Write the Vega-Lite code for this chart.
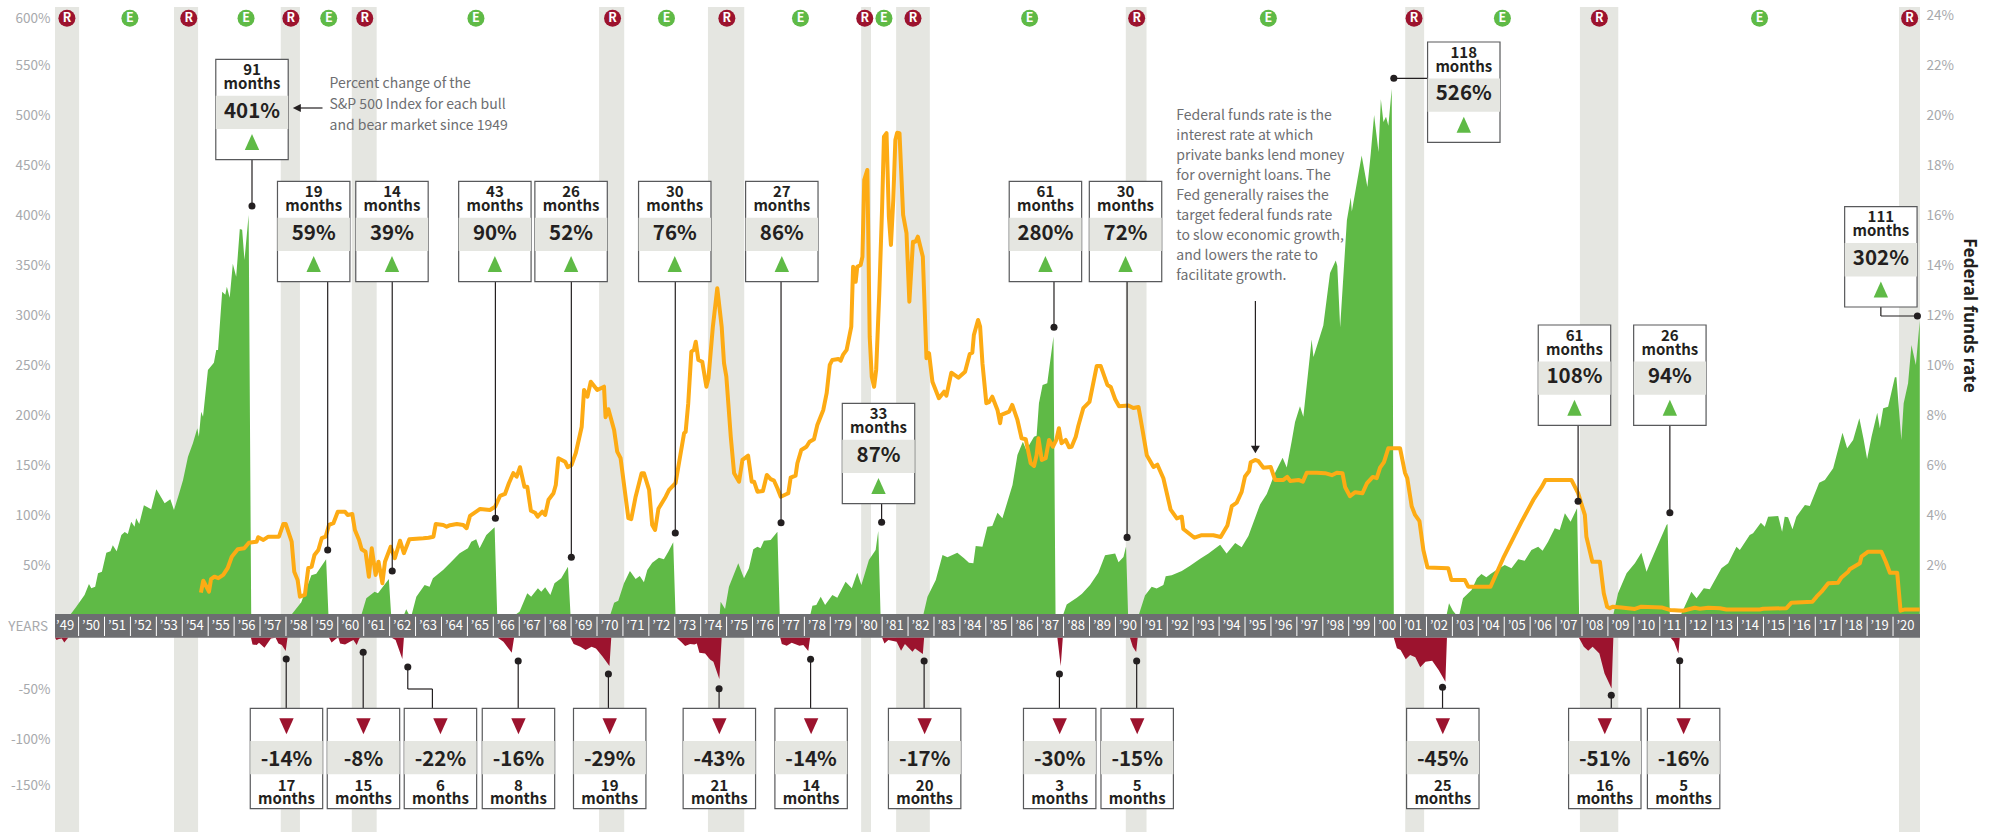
{"$schema":"https://vega.github.io/schema/vega-lite/v6.json","width":1865,"height":825,"autosize":"none","padding":{"left":55,"top":7,"right":70,"bottom":0},"background":"white","config":{"view":{"stroke":null},"text":{"font":"Noto Sans CJK KR"}},
"datasets":{
"bands":[{"start":1949.09,"end":1950.02},{"start":1953.68,"end":1954.61},{"start":1957.8,"end":1958.54},{"start":1960.54,"end":1961.5},{"start":1970.08,"end":1971.05},{"start":1974.28,"end":1975.68},{"start":1980.19,"end":1980.57},{"start":1981.54,"end":1982.84},{"start":1990.4,"end":1991.2},{"start":2001.18,"end":2001.91},{"start":2007.92,"end":2009.4},{"start":2020.23,"end":2021.04}],
"badges":[{"kind":"R","year":1949.55},{"kind":"E","year":1951.98},{"kind":"R","year":1954.25},{"kind":"E","year":1956.46},{"kind":"R","year":1958.19},{"kind":"E","year":1959.65},{"kind":"R","year":1961.04},{"kind":"E","year":1965.33},{"kind":"R","year":1970.6},{"kind":"E","year":1972.68},{"kind":"R","year":1975.01},{"kind":"E","year":1977.85},{"kind":"R","year":1980.33},{"kind":"E","year":1981.07},{"kind":"R","year":1982.19},{"kind":"E","year":1986.69},{"kind":"R","year":1990.82},{"kind":"E","year":1995.9},{"kind":"R","year":2001.52},{"kind":"E","year":2004.93},{"kind":"R","year":2008.67},{"kind":"E","year":2014.85},{"kind":"R","year":2020.64}],
"years":[{"year":1949,"label":"’49"},{"year":1950,"label":"’50"},{"year":1951,"label":"’51"},{"year":1952,"label":"’52"},{"year":1953,"label":"’53"},{"year":1954,"label":"’54"},{"year":1955,"label":"’55"},{"year":1956,"label":"’56"},{"year":1957,"label":"’57"},{"year":1958,"label":"’58"},{"year":1959,"label":"’59"},{"year":1960,"label":"’60"},{"year":1961,"label":"’61"},{"year":1962,"label":"’62"},{"year":1963,"label":"’63"},{"year":1964,"label":"’64"},{"year":1965,"label":"’65"},{"year":1966,"label":"’66"},{"year":1967,"label":"’67"},{"year":1968,"label":"’68"},{"year":1969,"label":"’69"},{"year":1970,"label":"’70"},{"year":1971,"label":"’71"},{"year":1972,"label":"’72"},{"year":1973,"label":"’73"},{"year":1974,"label":"’74"},{"year":1975,"label":"’75"},{"year":1976,"label":"’76"},{"year":1977,"label":"’77"},{"year":1978,"label":"’78"},{"year":1979,"label":"’79"},{"year":1980,"label":"’80"},{"year":1981,"label":"’81"},{"year":1982,"label":"’82"},{"year":1983,"label":"’83"},{"year":1984,"label":"’84"},{"year":1985,"label":"’85"},{"year":1986,"label":"’86"},{"year":1987,"label":"’87"},{"year":1988,"label":"’88"},{"year":1989,"label":"’89"},{"year":1990,"label":"’90"},{"year":1991,"label":"’91"},{"year":1992,"label":"’92"},{"year":1993,"label":"’93"},{"year":1994,"label":"’94"},{"year":1995,"label":"’95"},{"year":1996,"label":"’96"},{"year":1997,"label":"’97"},{"year":1998,"label":"’98"},{"year":1999,"label":"’99"},{"year":2000,"label":"’00"},{"year":2001,"label":"’01"},{"year":2002,"label":"’02"},{"year":2003,"label":"’03"},{"year":2004,"label":"’04"},{"year":2005,"label":"’05"},{"year":2006,"label":"’06"},{"year":2007,"label":"’07"},{"year":2008,"label":"’08"},{"year":2009,"label":"’09"},{"year":2010,"label":"’10"},{"year":2011,"label":"’11"},{"year":2012,"label":"’12"},{"year":2013,"label":"’13"},{"year":2014,"label":"’14"},{"year":2015,"label":"’15"},{"year":2016,"label":"’16"},{"year":2017,"label":"’17"},{"year":2018,"label":"’18"},{"year":2019,"label":"’19"},{"year":2020,"label":"’20"}],
"bull":[{"year":1949.65,"gain":0},{"year":1949.91,"gain":9},{"year":1950.23,"gain":20.7},{"year":1950.4,"gain":31.7},{"year":1950.49,"gain":27.4},{"year":1950.64,"gain":29},{"year":1950.75,"gain":42.4},{"year":1950.9,"gain":44},{"year":1951.07,"gain":63},{"year":1951.23,"gain":64.4},{"year":1951.32,"gain":70.4},{"year":1951.47,"gain":64.4},{"year":1951.65,"gain":80.7},{"year":1951.78,"gain":83.7},{"year":1951.9,"gain":81.7},{"year":1952.03,"gain":94},{"year":1952.16,"gain":89},{"year":1952.22,"gain":97.4},{"year":1952.34,"gain":91.7},{"year":1952.52,"gain":110.4},{"year":1952.8,"gain":106.4},{"year":1953,"gain":126.4},{"year":1953.32,"gain":112.4},{"year":1953.54,"gain":116.4},{"year":1953.68,"gain":105.7},{"year":1953.86,"gain":120.7},{"year":1954.03,"gain":135.7},{"year":1954.22,"gain":159},{"year":1954.41,"gain":172.4},{"year":1954.58,"gain":187.4},{"year":1954.64,"gain":179},{"year":1954.73,"gain":204},{"year":1954.8,"gain":199},{"year":1954.99,"gain":245.7},{"year":1955.22,"gain":253},{"year":1955.31,"gain":265.7},{"year":1955.38,"gain":265.7},{"year":1955.54,"gain":324},{"year":1955.66,"gain":321},{"year":1955.72,"gain":329},{"year":1955.83,"gain":318},{"year":1955.95,"gain":352},{"year":1956.08,"gain":339},{"year":1956.22,"gain":386.7},{"year":1956.31,"gain":386},{"year":1956.4,"gain":355.7},{"year":1956.56,"gain":400.7},{"year":1956.66,"gain":0},{"year":1958.18,"gain":0},{"year":1958.59,"gain":13.4},{"year":1958.98,"gain":40.4},{"year":1959.17,"gain":42},{"year":1959.55,"gain":56.4},{"year":1959.64,"gain":0},{"year":1960.9,"gain":0},{"year":1961.1,"gain":17.4},{"year":1961.42,"gain":24},{"year":1961.55,"gain":22.4},{"year":1961.74,"gain":29},{"year":1961.97,"gain":36.7},{"year":1962.06,"gain":0},{"year":1962.54,"gain":0},{"year":1962.64,"gain":6.4},{"year":1962.77,"gain":0},{"year":1962.84,"gain":0},{"year":1963.03,"gain":19},{"year":1963.35,"gain":30.7},{"year":1963.54,"gain":29},{"year":1963.67,"gain":37.4},{"year":1964.06,"gain":45.7},{"year":1964.38,"gain":54},{"year":1964.7,"gain":62.4},{"year":1965.02,"gain":67.4},{"year":1965.15,"gain":74},{"year":1965.34,"gain":76.4},{"year":1965.47,"gain":67.4},{"year":1965.73,"gain":80.7},{"year":1966.05,"gain":88.4},{"year":1966.15,"gain":0},{"year":1966.8,"gain":0},{"year":1967.01,"gain":4},{"year":1967.31,"gain":22.4},{"year":1967.46,"gain":19},{"year":1967.72,"gain":27.4},{"year":1967.85,"gain":24},{"year":1968,"gain":28.4},{"year":1968.2,"gain":20.7},{"year":1968.36,"gain":32.4},{"year":1968.62,"gain":37.4},{"year":1968.88,"gain":49},{"year":1968.98,"gain":0},{"year":1970.5,"gain":0},{"year":1970.66,"gain":13},{"year":1970.82,"gain":15},{"year":1971.04,"gain":32.4},{"year":1971.27,"gain":44.7},{"year":1971.49,"gain":36.7},{"year":1971.65,"gain":39.7},{"year":1971.81,"gain":33.4},{"year":1971.94,"gain":45.7},{"year":1972.13,"gain":53},{"year":1972.39,"gain":58},{"year":1972.58,"gain":56.4},{"year":1972.75,"gain":64},{"year":1972.94,"gain":73.4},{"year":1973.03,"gain":0},{"year":1974.73,"gain":0},{"year":1974.77,"gain":14},{"year":1974.94,"gain":6.7},{"year":1975.09,"gain":29},{"year":1975.45,"gain":52.4},{"year":1975.67,"gain":37.4},{"year":1975.86,"gain":47.4},{"year":1976.03,"gain":66.4},{"year":1976.19,"gain":69},{"year":1976.31,"gain":67.4},{"year":1976.44,"gain":75},{"year":1976.7,"gain":75.7},{"year":1976.96,"gain":84},{"year":1977.05,"gain":0},{"year":1978.22,"gain":0},{"year":1978.31,"gain":10},{"year":1978.46,"gain":10.7},{"year":1978.63,"gain":19},{"year":1978.8,"gain":10.7},{"year":1979.08,"gain":20.7},{"year":1979.27,"gain":18},{"year":1979.59,"gain":34},{"year":1979.83,"gain":27.4},{"year":1980.04,"gain":43},{"year":1980.2,"gain":30.7},{"year":1980.49,"gain":55.7},{"year":1980.75,"gain":65.7},{"year":1980.85,"gain":84.7},{"year":1980.94,"gain":0},{"year":1982.58,"gain":0},{"year":1982.75,"gain":19},{"year":1983.07,"gain":35.7},{"year":1983.33,"gain":60.7},{"year":1983.52,"gain":58.4},{"year":1983.9,"gain":63},{"year":1984.16,"gain":57.4},{"year":1984.35,"gain":53},{"year":1984.52,"gain":52.4},{"year":1984.61,"gain":69.7},{"year":1984.87,"gain":69},{"year":1985.06,"gain":89},{"year":1985.25,"gain":89.7},{"year":1985.45,"gain":103},{"year":1985.64,"gain":97.4},{"year":1986.03,"gain":130.7},{"year":1986.22,"gain":160.7},{"year":1986.43,"gain":174},{"year":1986.56,"gain":165.7},{"year":1986.86,"gain":179},{"year":1986.96,"gain":180},{"year":1987.05,"gain":212.4},{"year":1987.19,"gain":230.7},{"year":1987.37,"gain":232.4},{"year":1987.61,"gain":279},{"year":1987.69,"gain":0},{"year":1987.97,"gain":0},{"year":1988.12,"gain":11.3},{"year":1988.51,"gain":18},{"year":1988.71,"gain":21.9},{"year":1989.02,"gain":30.6},{"year":1989.34,"gain":42.9},{"year":1989.6,"gain":60.4},{"year":1989.99,"gain":62.2},{"year":1990.12,"gain":53.4},{"year":1990.31,"gain":58.7},{"year":1990.41,"gain":69.2},{"year":1990.49,"gain":0},{"year":1990.89,"gain":0},{"year":1991.14,"gain":20.1},{"year":1991.4,"gain":28.9},{"year":1991.59,"gain":27.1},{"year":1991.85,"gain":30.7},{"year":1991.94,"gain":39.4},{"year":1992.17,"gain":40.4},{"year":1992.56,"gain":44.7},{"year":1992.88,"gain":49.9},{"year":1993.27,"gain":56.9},{"year":1993.59,"gain":62.2},{"year":1994.04,"gain":71},{"year":1994.29,"gain":62.2},{"year":1994.62,"gain":72.7},{"year":1994.87,"gain":68.5},{"year":1995.13,"gain":79.7},{"year":1995.58,"gain":111.3},{"year":1995.84,"gain":121.8},{"year":1996.16,"gain":142.9},{"year":1996.45,"gain":157.9},{"year":1996.61,"gain":148.1},{"year":1996.8,"gain":174.4},{"year":1996.93,"gain":193.7},{"year":1997.12,"gain":209.5},{"year":1997.25,"gain":199},{"year":1997.57,"gain":276.1},{"year":1997.64,"gain":258.7},{"year":1997.83,"gain":274.4},{"year":1998.02,"gain":290.2},{"year":1998.28,"gain":342.8},{"year":1998.5,"gain":355.1},{"year":1998.56,"gain":349.8},{"year":1998.67,"gain":288.4},{"year":1998.93,"gain":395.4},{"year":1999.08,"gain":418.2},{"year":1999.12,"gain":404.2},{"year":1999.37,"gain":441},{"year":1999.5,"gain":460.3},{"year":1999.72,"gain":428.7},{"year":1999.85,"gain":462},{"year":1999.98,"gain":500.7},{"year":2000.15,"gain":463.8},{"year":2000.24,"gain":516.4},{"year":2000.34,"gain":493.7},{"year":2000.44,"gain":498.9},{"year":2000.53,"gain":490},{"year":2000.66,"gain":526.9},{"year":2000.74,"gain":0},{"year":2002.77,"gain":0},{"year":2002.87,"gain":12.4},{"year":2003.02,"gain":5},{"year":2003.18,"gain":0},{"year":2003.26,"gain":0},{"year":2003.41,"gain":17.4},{"year":2003.74,"gain":25.7},{"year":2003.95,"gain":37.4},{"year":2004.12,"gain":41.7},{"year":2004.31,"gain":38.4},{"year":2004.47,"gain":41.7},{"year":2004.7,"gain":45.7},{"year":2005.02,"gain":50.7},{"year":2005.28,"gain":47.4},{"year":2005.54,"gain":56.4},{"year":2005.79,"gain":55},{"year":2006.05,"gain":65.7},{"year":2006.31,"gain":69},{"year":2006.48,"gain":65},{"year":2006.69,"gain":74},{"year":2006.95,"gain":87.4},{"year":2007.14,"gain":85.7},{"year":2007.34,"gain":102.4},{"year":2007.56,"gain":94},{"year":2007.81,"gain":107.4},{"year":2007.89,"gain":0},{"year":2009.2,"gain":0},{"year":2009.39,"gain":22.4},{"year":2009.72,"gain":42.4},{"year":2010.04,"gain":52.4},{"year":2010.29,"gain":63},{"year":2010.49,"gain":44},{"year":2010.62,"gain":52.4},{"year":2010.87,"gain":67.4},{"year":2011.26,"gain":90.7},{"year":2011.3,"gain":91.7},{"year":2011.39,"gain":0},{"year":2011.8,"gain":0},{"year":2012.22,"gain":24},{"year":2012.42,"gain":17.4},{"year":2012.7,"gain":27.4},{"year":2012.93,"gain":26.4},{"year":2013.38,"gain":47.4},{"year":2013.64,"gain":52.4},{"year":2013.96,"gain":69},{"year":2014.09,"gain":65.7},{"year":2014.47,"gain":80.7},{"year":2014.6,"gain":82.4},{"year":2014.9,"gain":93},{"year":2015.05,"gain":89},{"year":2015.18,"gain":99},{"year":2015.57,"gain":99.7},{"year":2015.72,"gain":84},{"year":2015.82,"gain":99},{"year":2015.95,"gain":98.4},{"year":2016.12,"gain":86.4},{"year":2016.27,"gain":99},{"year":2016.6,"gain":110.7},{"year":2016.79,"gain":109.7},{"year":2017.15,"gain":133},{"year":2017.37,"gain":135.7},{"year":2017.69,"gain":147.4},{"year":2018.05,"gain":183},{"year":2018.23,"gain":167.4},{"year":2018.46,"gain":175.7},{"year":2018.7,"gain":197.4},{"year":2018.87,"gain":175.7},{"year":2019,"gain":156.7},{"year":2019.17,"gain":179},{"year":2019.39,"gain":203},{"year":2019.49,"gain":187.4},{"year":2019.62,"gain":207.4},{"year":2019.81,"gain":209},{"year":2020.07,"gain":238.4},{"year":2020.13,"gain":238.4},{"year":2020.32,"gain":175.7},{"year":2020.41,"gain":212.4},{"year":2020.58,"gain":232.4},{"year":2020.71,"gain":270.7},{"year":2020.88,"gain":250.7},{"year":2021.03,"gain":295}],
"bear":[{"year":1949.09,"loss":0},{"year":1949.15,"loss":-2.3},{"year":1949.24,"loss":-1.3},{"year":1949.35,"loss":-0.7},{"year":1949.45,"loss":-4.7},{"year":1949.54,"loss":-1.7},{"year":1949.6,"loss":0},{"year":1956.65,"loss":0},{"year":1956.71,"loss":-6.7},{"year":1956.87,"loss":-7.3},{"year":1956.96,"loss":-5},{"year":1957.17,"loss":-10},{"year":1957.42,"loss":-0.7},{"year":1957.6,"loss":0},{"year":1957.71,"loss":-5.7},{"year":1957.84,"loss":-7.3},{"year":1957.99,"loss":-13.3},{"year":1958.06,"loss":0},{"year":1959.66,"loss":0},{"year":1959.76,"loss":-4.7},{"year":1959.95,"loss":-0.7},{"year":1960.02,"loss":0},{"year":1960.09,"loss":-5.7},{"year":1960.28,"loss":-6.7},{"year":1960.47,"loss":-4},{"year":1960.6,"loss":-2.3},{"year":1960.73,"loss":-7.3},{"year":1960.83,"loss":-0.7},{"year":1960.88,"loss":0},{"year":1962.08,"loss":0},{"year":1962.23,"loss":-2.3},{"year":1962.49,"loss":-21.3},{"year":1962.55,"loss":0},{"year":1966.17,"loss":0},{"year":1966.39,"loss":-4},{"year":1966.71,"loss":-15},{"year":1966.8,"loss":0},{"year":1968.98,"loss":0},{"year":1969.1,"loss":-6.3},{"year":1969.36,"loss":-9},{"year":1969.56,"loss":-12.3},{"year":1969.79,"loss":-9},{"year":1969.96,"loss":-10.7},{"year":1970.22,"loss":-19},{"year":1970.48,"loss":-28.3},{"year":1970.55,"loss":0},{"year":1973.07,"loss":0},{"year":1973.27,"loss":-4.7},{"year":1973.4,"loss":-8.3},{"year":1973.59,"loss":-6.3},{"year":1973.76,"loss":-6.7},{"year":1973.85,"loss":-5.7},{"year":1973.95,"loss":-15},{"year":1974.17,"loss":-15.7},{"year":1974.36,"loss":-21.7},{"year":1974.49,"loss":-24},{"year":1974.72,"loss":-41.3},{"year":1974.81,"loss":0},{"year":1977.07,"loss":0},{"year":1977.13,"loss":-6.3},{"year":1977.32,"loss":-8},{"year":1977.51,"loss":-5},{"year":1977.81,"loss":-8},{"year":1977.96,"loss":-7.3},{"year":1978.15,"loss":-13.3},{"year":1978.22,"loss":0},{"year":1981,"loss":0},{"year":1981.09,"loss":-5.7},{"year":1981.24,"loss":-2.3},{"year":1981.56,"loss":-4},{"year":1981.73,"loss":-13},{"year":1981.88,"loss":-6.3},{"year":1982.17,"loss":-14},{"year":1982.27,"loss":-10.7},{"year":1982.57,"loss":-16.3},{"year":1982.62,"loss":0},{"year":1987.76,"loss":0},{"year":1987.89,"loss":-28.3},{"year":1987.97,"loss":0},{"year":1990.56,"loss":0},{"year":1990.67,"loss":-9},{"year":1990.8,"loss":-14.3},{"year":1990.86,"loss":0},{"year":2000.74,"loss":0},{"year":2000.86,"loss":-10.6},{"year":2001,"loss":-12.3},{"year":2001.2,"loss":-21.6},{"year":2001.37,"loss":-17.3},{"year":2001.57,"loss":-19.6},{"year":2001.76,"loss":-29.6},{"year":2001.96,"loss":-24},{"year":2002.22,"loss":-23},{"year":2002.47,"loss":-32.3},{"year":2002.73,"loss":-44},{"year":2002.79,"loss":0},{"year":2007.88,"loss":0},{"year":2008.07,"loss":-9},{"year":2008.24,"loss":-13},{"year":2008.41,"loss":-9},{"year":2008.67,"loss":-15.7},{"year":2008.87,"loss":-35.7},{"year":2009.14,"loss":-50.7},{"year":2009.21,"loss":0},{"year":2011.42,"loss":0},{"year":2011.55,"loss":-4},{"year":2011.72,"loss":-15.7},{"year":2011.77,"loss":0}],
"fed":[{"year":1954.72,"rate":0.92},{"year":1954.81,"rate":1.4},{"year":1955.03,"rate":0.96},{"year":1955.11,"rate":1.46},{"year":1955.24,"rate":1.56},{"year":1955.39,"rate":1.5},{"year":1955.58,"rate":1.63},{"year":1955.75,"rate":1.9},{"year":1955.91,"rate":2.36},{"year":1956.14,"rate":2.66},{"year":1956.39,"rate":2.7},{"year":1956.57,"rate":2.92},{"year":1956.87,"rate":2.96},{"year":1956.93,"rate":3.14},{"year":1957.13,"rate":3.03},{"year":1957.32,"rate":3.16},{"year":1957.73,"rate":3.16},{"year":1957.9,"rate":3.67},{"year":1957.99,"rate":3.67},{"year":1958.22,"rate":2.96},{"year":1958.32,"rate":1.76},{"year":1958.45,"rate":1.43},{"year":1958.54,"rate":0.76},{"year":1958.73,"rate":0.83},{"year":1958.86,"rate":1.9},{"year":1958.99,"rate":1.96},{"year":1959.1,"rate":2.43},{"year":1959.25,"rate":2.63},{"year":1959.38,"rate":3.1},{"year":1959.53,"rate":3.16},{"year":1959.66,"rate":3.63},{"year":1959.83,"rate":3.7},{"year":1960,"rate":4.16},{"year":1960.28,"rate":4.16},{"year":1960.38,"rate":4.03},{"year":1960.56,"rate":4.07},{"year":1960.66,"rate":3.43},{"year":1960.82,"rate":3.03},{"year":1960.92,"rate":2.66},{"year":1961.07,"rate":2.56},{"year":1961.2,"rate":1.56},{"year":1961.31,"rate":2.7},{"year":1961.46,"rate":1.63},{"year":1961.57,"rate":2.16},{"year":1961.72,"rate":1.3},{"year":1961.82,"rate":2.16},{"year":1962.04,"rate":2.76},{"year":1962.2,"rate":2.3},{"year":1962.4,"rate":3},{"year":1962.55,"rate":2.5},{"year":1962.76,"rate":3.06},{"year":1963.3,"rate":3.1},{"year":1963.5,"rate":3.12},{"year":1963.69,"rate":3.16},{"year":1963.78,"rate":3.67},{"year":1964.07,"rate":3.63},{"year":1964.2,"rate":3.56},{"year":1964.33,"rate":3.62},{"year":1964.59,"rate":3.67},{"year":1964.84,"rate":3.63},{"year":1964.97,"rate":3.5},{"year":1965.1,"rate":3.99},{"year":1965.49,"rate":4.27},{"year":1965.87,"rate":4.23},{"year":1966.07,"rate":4.36},{"year":1966.26,"rate":4.79},{"year":1966.45,"rate":4.87},{"year":1966.6,"rate":5.3},{"year":1966.77,"rate":5.7},{"year":1966.9,"rate":5.56},{"year":1967.03,"rate":5.94},{"year":1967.2,"rate":5.16},{"year":1967.31,"rate":5.16},{"year":1967.45,"rate":4.2},{"year":1967.61,"rate":4.12},{"year":1967.71,"rate":3.96},{"year":1967.89,"rate":4.16},{"year":1968,"rate":4.03},{"year":1968.13,"rate":4.64},{"year":1968.32,"rate":4.9},{"year":1968.41,"rate":5.23},{"year":1968.51,"rate":6.3},{"year":1968.77,"rate":6.16},{"year":1968.87,"rate":5.94},{"year":1969.02,"rate":6.03},{"year":1969.18,"rate":6.5},{"year":1969.41,"rate":7.56},{"year":1969.5,"rate":9.03},{"year":1969.63,"rate":8.76},{"year":1969.76,"rate":9.36},{"year":1970.01,"rate":9.03},{"year":1970.27,"rate":9.16},{"year":1970.33,"rate":7.94},{"year":1970.44,"rate":8.26},{"year":1970.66,"rate":7.43},{"year":1970.78,"rate":6.56},{"year":1970.91,"rate":6.3},{"year":1971.21,"rate":3.9},{"year":1971.32,"rate":3.86},{"year":1971.49,"rate":4.76},{"year":1971.72,"rate":5.7},{"year":1971.81,"rate":5.7},{"year":1972.01,"rate":5.03},{"year":1972.13,"rate":3.63},{"year":1972.24,"rate":3.43},{"year":1972.37,"rate":4.28},{"year":1972.65,"rate":4.76},{"year":1972.78,"rate":5.03},{"year":1973.03,"rate":5.3},{"year":1973.36,"rate":7.3},{"year":1973.42,"rate":7.36},{"year":1973.52,"rate":8.5},{"year":1973.64,"rate":10.56},{"year":1973.74,"rate":10.63},{"year":1973.81,"rate":10.96},{"year":1973.91,"rate":10.23},{"year":1974.06,"rate":10.16},{"year":1974.22,"rate":9.16},{"year":1974.3,"rate":9.5},{"year":1974.47,"rate":11.56},{"year":1974.64,"rate":13.1},{"year":1974.81,"rate":11.56},{"year":1974.9,"rate":10.1},{"year":1974.99,"rate":9.56},{"year":1975.16,"rate":7.16},{"year":1975.29,"rate":5.7},{"year":1975.48,"rate":5.36},{"year":1975.61,"rate":6.23},{"year":1975.83,"rate":6.4},{"year":1975.97,"rate":5.36},{"year":1976.06,"rate":5.36},{"year":1976.19,"rate":4.96},{"year":1976.4,"rate":4.99},{"year":1976.55,"rate":5.63},{"year":1976.7,"rate":5.46},{"year":1976.83,"rate":5.4},{"year":1976.96,"rate":5.1},{"year":1977.09,"rate":4.76},{"year":1977.38,"rate":4.9},{"year":1977.47,"rate":5.52},{"year":1977.66,"rate":5.6},{"year":1977.73,"rate":6.1},{"year":1977.88,"rate":6.63},{"year":1978.08,"rate":6.76},{"year":1978.2,"rate":6.96},{"year":1978.37,"rate":7.06},{"year":1978.5,"rate":7.63},{"year":1978.73,"rate":8.23},{"year":1978.86,"rate":8.9},{"year":1978.98,"rate":10.03},{"year":1979.08,"rate":10.23},{"year":1979.31,"rate":10.27},{"year":1979.4,"rate":10.2},{"year":1979.49,"rate":10.43},{"year":1979.63,"rate":10.63},{"year":1979.81,"rate":11.56},{"year":1979.88,"rate":13.96},{"year":1979.98,"rate":13.36},{"year":1980.04,"rate":13.96},{"year":1980.17,"rate":14.03},{"year":1980.24,"rate":14.36},{"year":1980.31,"rate":17.43},{"year":1980.43,"rate":17.83},{"year":1980.52,"rate":11.16},{"year":1980.6,"rate":9.56},{"year":1980.69,"rate":9.16},{"year":1980.77,"rate":9.83},{"year":1980.89,"rate":12.9},{"year":1981,"rate":16.36},{"year":1981.07,"rate":19.16},{"year":1981.17,"rate":19.3},{"year":1981.26,"rate":15.96},{"year":1981.34,"rate":14.83},{"year":1981.43,"rate":16.63},{"year":1981.51,"rate":19.03},{"year":1981.58,"rate":19.32},{"year":1981.67,"rate":19.3},{"year":1981.81,"rate":16.03},{"year":1981.94,"rate":15.3},{"year":1982.05,"rate":12.56},{"year":1982.19,"rate":14.96},{"year":1982.29,"rate":14.96},{"year":1982.38,"rate":15.16},{"year":1982.57,"rate":14.36},{"year":1982.71,"rate":10.3},{"year":1982.81,"rate":10.5},{"year":1982.94,"rate":9.36},{"year":1983.19,"rate":8.7},{"year":1983.39,"rate":8.96},{"year":1983.48,"rate":8.8},{"year":1983.67,"rate":9.72},{"year":1983.94,"rate":9.52},{"year":1984.2,"rate":9.76},{"year":1984.38,"rate":10.47},{"year":1984.48,"rate":10.52},{"year":1984.54,"rate":11.23},{"year":1984.7,"rate":11.83},{"year":1984.78,"rate":11.56},{"year":1984.87,"rate":10.1},{"year":1985.02,"rate":8.5},{"year":1985.12,"rate":8.54},{"year":1985.25,"rate":8.76},{"year":1985.45,"rate":8.23},{"year":1985.55,"rate":7.7},{"year":1985.6,"rate":8.03},{"year":1985.9,"rate":8.16},{"year":1986.02,"rate":8.43},{"year":1986.22,"rate":7.83},{"year":1986.38,"rate":7.1},{"year":1986.54,"rate":7.06},{"year":1986.73,"rate":6.1},{"year":1986.86,"rate":5.99},{"year":1986.96,"rate":6.43},{"year":1987.03,"rate":7.1},{"year":1987.16,"rate":6.23},{"year":1987.31,"rate":6.3},{"year":1987.44,"rate":7.03},{"year":1987.59,"rate":6.76},{"year":1987.72,"rate":7.03},{"year":1987.82,"rate":7.5},{"year":1987.92,"rate":6.9},{"year":1988.08,"rate":7.03},{"year":1988.21,"rate":6.74},{"year":1988.31,"rate":6.76},{"year":1988.47,"rate":7.16},{"year":1988.57,"rate":7.6},{"year":1988.76,"rate":8.3},{"year":1989,"rate":8.55},{"year":1989.28,"rate":9.99},{"year":1989.43,"rate":9.99},{"year":1989.69,"rate":9.23},{"year":1989.82,"rate":9.15},{"year":1989.99,"rate":8.66},{"year":1990.14,"rate":8.38},{"year":1990.5,"rate":8.41},{"year":1990.69,"rate":8.31},{"year":1990.89,"rate":8.35},{"year":1991.05,"rate":7.4},{"year":1991.21,"rate":6.42},{"year":1991.47,"rate":5.95},{"year":1991.62,"rate":6.04},{"year":1991.85,"rate":5.5},{"year":1992.13,"rate":4.24},{"year":1992.37,"rate":3.89},{"year":1992.56,"rate":3.96},{"year":1992.62,"rate":3.47},{"year":1993.05,"rate":3.12},{"year":1993.33,"rate":3.22},{"year":1993.78,"rate":3.22},{"year":1994.06,"rate":3.15},{"year":1994.32,"rate":3.61},{"year":1994.49,"rate":4.38},{"year":1994.68,"rate":4.52},{"year":1994.87,"rate":4.95},{"year":1995,"rate":5.57},{"year":1995.16,"rate":5.79},{"year":1995.22,"rate":6.14},{"year":1995.39,"rate":6.23},{"year":1995.52,"rate":6.18},{"year":1995.71,"rate":5.92},{"year":1995.99,"rate":5.95},{"year":1996.16,"rate":5.43},{"year":1996.48,"rate":5.43},{"year":1996.63,"rate":5.55},{"year":1996.74,"rate":5.39},{"year":1997.06,"rate":5.43},{"year":1997.23,"rate":5.36},{"year":1997.38,"rate":5.72},{"year":1997.77,"rate":5.72},{"year":1998.09,"rate":5.7},{"year":1998.35,"rate":5.62},{"year":1998.54,"rate":5.72},{"year":1998.76,"rate":5.7},{"year":1998.86,"rate":5.15},{"year":1999.05,"rate":4.78},{"year":1999.25,"rate":4.94},{"year":1999.53,"rate":4.9},{"year":1999.7,"rate":5.29},{"year":1999.93,"rate":5.55},{"year":2000.08,"rate":5.5},{"year":2000.21,"rate":5.92},{"year":2000.36,"rate":6.14},{"year":2000.53,"rate":6.7},{"year":2000.98,"rate":6.7},{"year":2001.17,"rate":5.72},{"year":2001.26,"rate":5.5},{"year":2001.43,"rate":4.38},{"year":2001.56,"rate":4.03},{"year":2001.73,"rate":3.78},{"year":2001.88,"rate":2.63},{"year":2002.04,"rate":1.93},{"year":2002.84,"rate":1.9},{"year":2002.96,"rate":1.43},{"year":2003.48,"rate":1.43},{"year":2003.61,"rate":1.16},{"year":2004.47,"rate":1.16},{"year":2004.96,"rate":2.3},{"year":2005.41,"rate":3.23},{"year":2005.67,"rate":3.76},{"year":2006.12,"rate":4.63},{"year":2006.44,"rate":5.14},{"year":2006.59,"rate":5.43},{"year":2007.59,"rate":5.43},{"year":2007.85,"rate":4.9},{"year":2008.11,"rate":4.03},{"year":2008.17,"rate":3.16},{"year":2008.4,"rate":2.16},{"year":2008.69,"rate":2.16},{"year":2008.84,"rate":0.9},{"year":2008.97,"rate":0.36},{"year":2009.07,"rate":0.3},{"year":2009.2,"rate":0.36},{"year":2009.52,"rate":0.33},{"year":2010.04,"rate":0.27},{"year":2010.29,"rate":0.36},{"year":2011.07,"rate":0.33},{"year":2011.39,"rate":0.23},{"year":2011.9,"rate":0.2},{"year":2012.35,"rate":0.32},{"year":2012.55,"rate":0.28},{"year":2012.87,"rate":0.32},{"year":2013.32,"rate":0.3},{"year":2013.57,"rate":0.25},{"year":2014.86,"rate":0.25},{"year":2014.99,"rate":0.28},{"year":2015.89,"rate":0.3},{"year":2016.08,"rate":0.52},{"year":2016.89,"rate":0.56},{"year":2017.05,"rate":0.76},{"year":2017.24,"rate":0.96},{"year":2017.5,"rate":1.3},{"year":2017.88,"rate":1.32},{"year":2018.01,"rate":1.53},{"year":2018.27,"rate":1.76},{"year":2018.33,"rate":1.86},{"year":2018.72,"rate":2.1},{"year":2018.78,"rate":2.36},{"year":2019.04,"rate":2.56},{"year":2019.55,"rate":2.56},{"year":2019.72,"rate":2.16},{"year":2019.88,"rate":1.72},{"year":2020.16,"rate":1.72},{"year":2020.29,"rate":0.2},{"year":2020.46,"rate":0.25},{"year":2021.03,"rate":0.25}],
"callouts":[{"x":1956.69,"top":556.4,"dir":"up","months":"91","pct":"401%"},{"x":1959.07,"top":434.4,"dir":"up","months":"19","pct":"59%"},{"x":1962.09,"top":434.4,"dir":"up","months":"14","pct":"39%"},{"x":1966.06,"top":434.4,"dir":"up","months":"43","pct":"90%"},{"x":1969,"top":434.4,"dir":"up","months":"26","pct":"52%"},{"x":1973,"top":434.4,"dir":"up","months":"30","pct":"76%"},{"x":1977.13,"top":434.4,"dir":"up","months":"27","pct":"86%"},{"x":1980.86,"top":212.4,"dir":"up","months":"33","pct":"87%"},{"x":1987.3,"top":434.4,"dir":"up","months":"61","pct":"280%"},{"x":1990.39,"top":434.4,"dir":"up","months":"30","pct":"72%"},{"x":2003.44,"top":573.7,"dir":"up","months":"118","pct":"526%"},{"x":2007.71,"top":290.7,"dir":"up","months":"61","pct":"108%"},{"x":2011.39,"top":290.7,"dir":"up","months":"26","pct":"94%"},{"x":2019.53,"top":409,"dir":"up","months":"111","pct":"302%"},{"x":1958.02,"top":-92.6,"dir":"down","months":"17","pct":"-14%"},{"x":1960.99,"top":-92.6,"dir":"down","months":"15","pct":"-8%"},{"x":1963.96,"top":-92.6,"dir":"down","months":"6","pct":"-22%"},{"x":1966.97,"top":-92.6,"dir":"down","months":"8","pct":"-16%"},{"x":1970.49,"top":-92.6,"dir":"down","months":"19","pct":"-29%"},{"x":1974.72,"top":-92.6,"dir":"down","months":"21","pct":"-43%"},{"x":1978.26,"top":-92.6,"dir":"down","months":"14","pct":"-14%"},{"x":1982.64,"top":-92.6,"dir":"down","months":"20","pct":"-17%"},{"x":1987.85,"top":-92.6,"dir":"down","months":"3","pct":"-30%"},{"x":1990.84,"top":-92.6,"dir":"down","months":"5","pct":"-15%"},{"x":2002.63,"top":-92.6,"dir":"down","months":"25","pct":"-45%"},{"x":2008.88,"top":-92.6,"dir":"down","months":"16","pct":"-51%"},{"x":2011.92,"top":-92.6,"dir":"down","months":"5","pct":"-16%"}],
"leaders":[{"x":1956.69,"y":409.7,"x2":1956.69,"y2":456.1,"dot":1},{"x":1959.61,"y":65.7,"x2":1959.61,"y2":334.1,"dot":1},{"x":1962.1,"y":44.7,"x2":1962.1,"y2":334.1,"dot":1},{"x":1966.08,"y":97.4,"x2":1966.08,"y2":334.1,"dot":1},{"x":1969.01,"y":58.4,"x2":1969.01,"y2":334.1,"dot":1},{"x":1973.02,"y":82.7,"x2":1973.02,"y2":334.1,"dot":1},{"x":1977.1,"y":93,"x2":1977.1,"y2":334.1,"dot":1},{"x":1980.98,"y":93.4,"x2":1980.98,"y2":112.1,"dot":1},{"x":1987.63,"y":288.4,"x2":1987.63,"y2":334.1,"dot":1},{"x":1990.45,"y":78.3,"x2":1990.45,"y2":334.1,"dot":1},{"x":2000.74,"y":537.4,"x2":2002.05,"y2":537.4,"dot":1},{"x":2007.85,"y":114.4,"x2":2007.85,"y2":190.4,"dot":1},{"x":2011.39,"y":103,"x2":2011.39,"y2":190.4,"dot":1},{"x":2020.94,"y":299.7,"x2":2019.53,"y2":299.7,"dot":1},{"x":2019.53,"y":299.7,"x2":2019.53,"y2":308.7,"dot":0},{"x":1958.01,"y":-43.3,"x2":1958.01,"y2":-92.6,"dot":1},{"x":1960.98,"y":-36.6,"x2":1960.98,"y2":-92.6,"dot":1},{"x":1962.7,"y":-51.3,"x2":1962.7,"y2":-73.3,"dot":1},{"x":1962.7,"y":-73.3,"x2":1963.65,"y2":-73.3,"dot":0},{"x":1963.65,"y":-73.3,"x2":1963.65,"y2":-92.6,"dot":0},{"x":1966.96,"y":-45.3,"x2":1966.96,"y2":-92.6,"dot":1},{"x":1970.44,"y":-58.3,"x2":1970.44,"y2":-92.6,"dot":1},{"x":1974.71,"y":-73,"x2":1974.71,"y2":-92.6,"dot":1},{"x":1978.24,"y":-43.6,"x2":1978.24,"y2":-92.6,"dot":1},{"x":1982.62,"y":-45.3,"x2":1982.62,"y2":-92.6,"dot":1},{"x":1987.84,"y":-58.3,"x2":1987.84,"y2":-92.6,"dot":1},{"x":1990.82,"y":-45.3,"x2":1990.82,"y2":-92.6,"dot":1},{"x":2002.62,"y":-71.6,"x2":2002.62,"y2":-92.6,"dot":1},{"x":2009.13,"y":-79.6,"x2":2009.13,"y2":-92.6,"dot":1},{"x":2011.77,"y":-45,"x2":2011.77,"y2":-92.6,"dot":1}],
"notes":[{"x":1959.68,"y":531.7,"line":"Percent change of the"},{"x":1959.68,"y":510.7,"line":"S&P 500 Index for each bull"},{"x":1959.68,"y":489.7,"line":"and bear market since 1949"},{"x":1992.35,"y":499.6,"line":"Federal funds rate is the"},{"x":1992.35,"y":479.6,"line":"interest rate at which"},{"x":1992.35,"y":459.6,"line":"private banks lend money"},{"x":1992.35,"y":439.6,"line":"for overnight loans. The"},{"x":1992.35,"y":419.6,"line":"Fed generally raises the"},{"x":1992.35,"y":399.6,"line":"target federal funds rate"},{"x":1992.35,"y":379.6,"line":"to slow economic growth,"},{"x":1992.35,"y":359.6,"line":"and lowers the rate to"},{"x":1992.35,"y":339.6,"line":"facilitate growth."}],
"arrows":[{"x":1959.41,"y":507.7,"x2":1958.5,"y2":507.7,"tipx":1958.42,"tipy":507.7,"dir":"left"},{"x":1995.4,"y":314.7,"x2":1995.4,"y2":168,"tipx":1995.4,"tipy":166.5,"dir":"down"}]
},
"resolve":{"scale":{"y":"independent"}},
"layer":[
{"data":{"name":"bands"},"mark":{"type":"rect","color":"#e5e6e1"},"encoding":{"x":{"field":"start","type":"quantitative","scale":{"domain":[1949.09,2021.04]},"axis":null},"x2":{"field":"end"}}},
{"data":{"name":"bull"},"mark":{"type":"area","color":"#5fba46","interpolate":"linear"},"encoding":{"x":{"field":"year","type":"quantitative","scale":{"domain":[1949.09,2021.04]},"axis":null},"y":{"field":"gain","type":"quantitative","stack":null,"scale":{"domain":[-216.3,608.7]},"axis":{"orient":"left","title":null,"values":[50,100,150,200,250,300,350,400,450,500,550,597.4],"labelExpr":"datum.value>590?'600%':datum.value+'%'","domain":false,"ticks":false,"grid":false,"labelFont":"Noto Sans CJK KR","labelFontSize":13.5,"labelColor":"#a7a9ac","labelPadding":5}}}},
{"layer":[
{"data":{"values":[{}]},"mark":{"type":"rect","color":"#6d6e71"},"encoding":{"x":{"datum":1949.09,"type":"quantitative","scale":{"domain":[1949.09,2021.04]},"axis":null},"x2":{"datum":2021.04},"y":{"datum":1.7,"type":"quantitative","scale":{"domain":[-216.3,608.7]},"axis":null},"y2":{"datum":-22}}},
{"data":{"name":"years"},"transform":[{"filter":"datum.year>=1950"}],"mark":{"type":"rule","color":"white","strokeWidth":1},"encoding":{"x":{"field":"year","type":"quantitative","scale":{"domain":[1949.09,2021.04]},"axis":null},"y":{"datum":-1,"type":"quantitative","scale":{"domain":[-216.3,608.7]},"axis":null},"y2":{"datum":-20.3}}},
{"data":{"name":"years"},"transform":[{"calculate":"datum.year+0.48","as":"mid"}],"mark":{"type":"text","color":"white","fontSize":13,"baseline":"middle","align":"center"},"encoding":{"x":{"field":"mid","type":"quantitative","scale":{"domain":[1949.09,2021.04]},"axis":null},"y":{"datum":-10,"type":"quantitative","scale":{"domain":[-216.3,608.7]},"axis":null},"text":{"field":"label"}}},
{"data":{"values":[{"t":"YEARS"}]},"mark":{"type":"text","color":"#a7a9ac","fontSize":13.5,"baseline":"middle","align":"right"},"encoding":{"x":{"datum":1948.82,"type":"quantitative","scale":{"domain":[1949.09,2021.04]},"axis":null},"y":{"datum":-11.3,"type":"quantitative","scale":{"domain":[-216.3,608.7]},"axis":null},"text":{"field":"t"}}}
]},
{"data":{"name":"bear"},"mark":{"type":"area","color":"#9c132e","interpolate":"linear"},"encoding":{"x":{"field":"year","type":"quantitative","scale":{"domain":[1949.09,2021.04]},"axis":null},"y":{"field":"loss","type":"quantitative","stack":null,"scale":{"domain":[-194.3,630.7]},"axis":{"orient":"left","title":null,"values":[-51.6,-101.6,-148],"labelExpr":"datum.value>-60?'-50%':datum.value>-110?'-100%':'-150%'","domain":false,"ticks":false,"grid":false,"labelFont":"Noto Sans CJK KR","labelFontSize":13.5,"labelColor":"#a7a9ac","labelPadding":5}}}},
{"data":{"name":"fed"},"mark":{"type":"line","color":"#fdab14","strokeWidth":4,"interpolate":"linear","strokeJoin":"round"},"encoding":{"x":{"field":"year","type":"quantitative","scale":{"domain":[1949.09,2021.04]},"axis":null},"y":{"field":"rate","type":"quantitative","scale":{"domain":[-8.652,24.348]},"axis":{"orient":"right","title":"Federal funds rate","titleAngle":90,"titleX":48,"titleY":308,"titleFont":"Noto Sans","titleFontSize":17,"titleFontWeight":"bold","titleColor":"#231f20","titleBaseline":"middle","titleAlign":"center","values":[2,4,6,8,10,12,14,16,18,20,22,24],"labelExpr":"datum.value+'%'","domain":false,"ticks":false,"grid":false,"labelFont":"Noto Sans CJK KR","labelFontSize":13.5,"labelColor":"#a7a9ac","labelPadding":6}}}},
{"layer":[
{"data":{"name":"leaders"},"mark":{"type":"rule","color":"#231f20","strokeWidth":1.2},"encoding":{"x":{"field":"x","type":"quantitative","scale":{"domain":[1949.09,2021.04]},"axis":null},"x2":{"field":"x2"},"y":{"field":"y","type":"quantitative","scale":{"domain":[-216.3,608.7]},"axis":null},"y2":{"field":"y2"}}},
{"data":{"name":"leaders"},"transform":[{"filter":"datum.dot==1"}],"mark":{"type":"point","filled":true,"shape":"circle","size":50,"opacity":1,"color":"#231f20"},"encoding":{"x":{"field":"x","type":"quantitative","scale":{"domain":[1949.09,2021.04]},"axis":null},"y":{"field":"y","type":"quantitative","scale":{"domain":[-216.3,608.7]},"axis":null}}},
{"data":{"name":"arrows"},"mark":{"type":"rule","color":"#231f20","strokeWidth":1.2},"encoding":{"x":{"field":"x","type":"quantitative","scale":{"domain":[1949.09,2021.04]},"axis":null},"x2":{"field":"x2"},"y":{"field":"y","type":"quantitative","scale":{"domain":[-216.3,608.7]},"axis":null},"y2":{"field":"y2"}}},
{"data":{"name":"arrows"},"transform":[{"filter":"datum.dir=='left'"}],"mark":{"type":"point","filled":true,"size":100,"opacity":1,"color":"#231f20","shape":"M-0.8,0L0.8,-0.8L0.8,0.8Z"},"encoding":{"x":{"field":"tipx","type":"quantitative","scale":{"domain":[1949.09,2021.04]},"axis":null},"y":{"field":"tipy","type":"quantitative","scale":{"domain":[-216.3,608.7]},"axis":null}}},
{"data":{"name":"arrows"},"transform":[{"filter":"datum.dir=='down'"}],"mark":{"type":"point","filled":true,"size":100,"opacity":1,"color":"#231f20","shape":"M-0.9,-0.7L0.9,-0.7L0,0.8Z"},"encoding":{"x":{"field":"tipx","type":"quantitative","scale":{"domain":[1949.09,2021.04]},"axis":null},"y":{"field":"tipy","type":"quantitative","scale":{"domain":[-216.3,608.7]},"axis":null}}},
{"data":{"name":"notes"},"mark":{"type":"text","color":"#6d6e71","fontSize":14,"align":"left","baseline":"middle"},"encoding":{"x":{"field":"x","type":"quantitative","scale":{"domain":[1949.09,2021.04]},"axis":null},"y":{"field":"y","type":"quantitative","scale":{"domain":[-216.3,608.7]},"axis":null},"text":{"field":"line"}}},
{"data":{"name":"badges"},"mark":{"type":"point","filled":true,"shape":"circle","size":289,"opacity":1},"encoding":{"x":{"field":"year","type":"quantitative","scale":{"domain":[1949.09,2021.04]},"axis":null},"y":{"datum":597.4,"type":"quantitative","scale":{"domain":[-216.3,608.7]},"axis":null},"color":{"field":"kind","type":"nominal","scale":{"domain":["R","E"],"range":["#9c132e","#5fba46"]},"legend":null}}},
{"data":{"name":"badges"},"mark":{"type":"text","color":"white","fontSize":12.5,"fontWeight":"bold","align":"center","baseline":"middle"},"encoding":{"x":{"field":"year","type":"quantitative","scale":{"domain":[1949.09,2021.04]},"axis":null},"y":{"datum":597.4,"type":"quantitative","scale":{"domain":[-216.3,608.7]},"axis":null},"text":{"field":"kind"}}},
{"data":{"name":"callouts"},"transform":[{"calculate":"datum.x-1.397","as":"x0"},{"calculate":"datum.x+1.397","as":"x1"},{"calculate":"datum.top-(datum.dir=='up'?100.3:100.4)","as":"bottom"},{"calculate":"datum.top-(datum.dir=='up'?36.4:32.7)","as":"gt"},{"calculate":"datum.top-(datum.dir=='up'?69.7:66)","as":"gb"},{"calculate":"datum.top-(datum.dir=='up'?82.7:18)","as":"tri"},{"calculate":"datum.top-(datum.dir=='up'?52.4:51.7)","as":"py"},{"calculate":"datum.top-(datum.dir=='up'?10.7:77.7)","as":"ny"},{"calculate":"datum.top-(datum.dir=='up'?24.7:90.7)","as":"my"},{"calculate":"'months'","as":"unit"}],"layer":[
{"mark":{"type":"rect","fill":"white","stroke":"#58595b","strokeWidth":1.2},"encoding":{"x":{"field":"x0","type":"quantitative","scale":{"domain":[1949.09,2021.04]},"axis":null},"x2":{"field":"x1"},"y":{"field":"top","type":"quantitative","scale":{"domain":[-216.3,608.7]},"axis":null},"y2":{"field":"bottom"}}},
{"mark":{"type":"rect","fill":"#e5e6e1"},"encoding":{"x":{"field":"x0","type":"quantitative","scale":{"domain":[1949.09,2021.04]},"axis":null},"x2":{"field":"x1"},"y":{"field":"gt","type":"quantitative","scale":{"domain":[-216.3,608.7]},"axis":null},"y2":{"field":"gb"}}},
{"transform":[{"filter":"datum.dir=='up'"}],"mark":{"type":"point","filled":true,"size":256,"opacity":1,"color":"#5fba46","shape":"M-0.9,1L0.9,1L0,-1Z"},"encoding":{"x":{"field":"x","type":"quantitative","scale":{"domain":[1949.09,2021.04]},"axis":null},"y":{"field":"tri","type":"quantitative","scale":{"domain":[-216.3,608.7]},"axis":null}}},
{"transform":[{"filter":"datum.dir=='down'"}],"mark":{"type":"point","filled":true,"size":256,"opacity":1,"color":"#9c132e","shape":"M-0.9,-1L0.9,-1L0,1Z"},"encoding":{"x":{"field":"x","type":"quantitative","scale":{"domain":[1949.09,2021.04]},"axis":null},"y":{"field":"tri","type":"quantitative","scale":{"domain":[-216.3,608.7]},"axis":null}}},
{"mark":{"type":"text","color":"#231f20","fontSize":20.5,"fontWeight":600,"align":"center","baseline":"middle"},"encoding":{"x":{"field":"x","type":"quantitative","scale":{"domain":[1949.09,2021.04]},"axis":null},"y":{"field":"py","type":"quantitative","scale":{"domain":[-216.3,608.7]},"axis":null},"text":{"field":"pct"}}},
{"mark":{"type":"text","color":"#231f20","fontSize":15,"fontWeight":"bold","align":"center","baseline":"middle"},"encoding":{"x":{"field":"x","type":"quantitative","scale":{"domain":[1949.09,2021.04]},"axis":null},"y":{"field":"ny","type":"quantitative","scale":{"domain":[-216.3,608.7]},"axis":null},"text":{"field":"months"}}},
{"mark":{"type":"text","color":"#231f20","fontSize":15,"fontWeight":"bold","align":"center","baseline":"middle"},"encoding":{"x":{"field":"x","type":"quantitative","scale":{"domain":[1949.09,2021.04]},"axis":null},"y":{"field":"my","type":"quantitative","scale":{"domain":[-216.3,608.7]},"axis":null},"text":{"field":"unit"}}}
]}
]}
]}
